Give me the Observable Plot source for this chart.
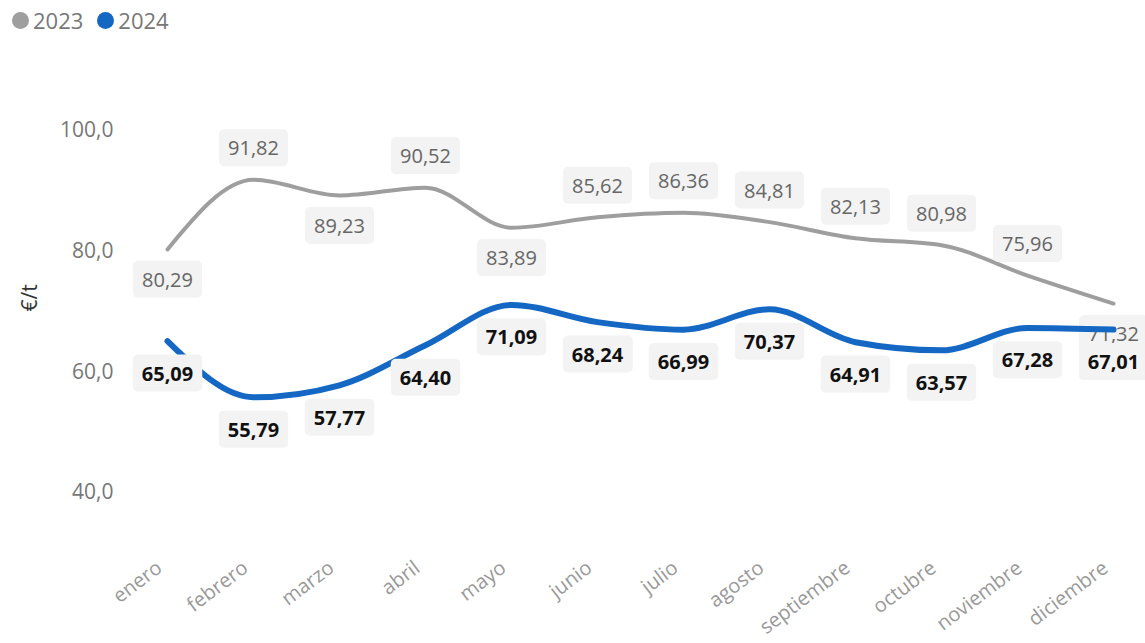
<!DOCTYPE html>
<html><head><meta charset="utf-8">
<script src="https://cdn.jsdelivr.net/npm/d3@7"></script>
<script src="https://cdn.jsdelivr.net/npm/@observablehq/plot@0.6"></script>
<style>
body{margin:0;background:#fff;font-family:"Segoe UI","Open Sans",sans-serif;}
#legend{height:40px;display:flex;align-items:center;padding-left:12px;font-size:22px;color:#777;}
#legend span.dot{display:inline-block;width:17px;height:17px;border-radius:50%;margin-right:4px;}
#legend span.item{display:inline-flex;align-items:center;margin-right:14px;}
</style></head>
<body>
<div id="legend"></div>
<div id="chart"></div>
<script>
const months = ["enero","febrero","marzo","abril","mayo","junio","julio","agosto","septiembre","octubre","noviembre","diciembre"];
const values2023 = [80.29,91.82,89.23,90.52,83.89,85.62,86.36,84.81,82.13,80.98,75.96,71.32];
const values2024 = [65.09,55.79,57.77,64.40,71.09,68.24,66.99,70.37,64.91,63.57,67.28,67.01];
// label placement: +1 above, -1 below
const pos2023 = [-1,1,-1,1,-1,1,1,1,1,1,1,-1];
const pos2024 = [-1,-1,-1,-1,-1,-1,-1,-1,-1,-1,-1,-1];
const yTicks = [40,60,80,100];
const seriesNames = ["2023","2024"];
const colors = ["#9e9e9e","#1467c3"];

const d23 = months.map((m,i)=>({month:m, v:values2023[i], p:pos2023[i]}));
const d24 = months.map((m,i)=>({month:m, v:values2024[i], p:pos2024[i]}));
const fmt = d3.format(".2f");
const es = v => fmt(v).replace(".", ",");

const legend = document.getElementById("legend");
seriesNames.forEach((s,i)=>{
  const it = document.createElement("span"); it.className="item";
  it.innerHTML = `<span class="dot" style="background:${colors[i]}"></span>${s}`;
  legend.appendChild(it);
});

const font = '"Segoe UI","Open Sans",sans-serif';
const plot = Plot.plot({
  width:1145, height:603,
  marginLeft:165, marginRight:30, marginTop:90, marginBottom:151,
  style:{fontFamily:font, background:"#fff", overflow:"visible"},
  x:{type:"point", domain:months, padding:0},
  y:{domain:[40,100]},
  marks:[
    Plot.axisY(yTicks,{tickSize:0, tickPadding:52, fontSize:21, fill:"#777", tickFormat:d=>d3.format(".1f")(d).replace(".",","), label:null}),
    Plot.axisX({tickSize:0, tickPadding:0, tickRotate:-37, fontSize:20, fill:"#999", dy:73, dx:-8, label:null}),
    Plot.text(["€/t"],{frameAnchor:"left", dx:-135, rotate:-90, fontSize:21, fill:"#333"}),
    Plot.line(d23,{x:"month", y:"v", stroke:colors[0], strokeWidth:4, curve:"monotone-x"}),
    Plot.text(d23.filter(d=>d.p>0),{x:"month", y:"v", text:d=>es(d.v), dy:-31, fontSize:20, fill:"#666", className:"lbl"}),
    Plot.text(d23.filter(d=>d.p<0),{x:"month", y:"v", text:d=>es(d.v), dy:31, fontSize:20, fill:"#666", className:"lbl"}),
    Plot.line(d24,{x:"month", y:"v", stroke:colors[1], strokeWidth:6, curve:"monotone-x"}),
    Plot.text(d24,{x:"month", y:"v", text:d=>es(d.v), dy:33, fontSize:20, fontWeight:"bold", fill:"#111", className:"lbl"})
  ]
});
document.getElementById("chart").appendChild(plot);
// add rounded background boxes behind labels
plot.querySelectorAll(".lbl text").forEach(t=>{
  const b = t.getBBox();
  const r = document.createElementNS("http://www.w3.org/2000/svg","rect");
  const px=9, py=5;
  r.setAttribute("x", b.x-px); r.setAttribute("y", b.y-py);
  r.setAttribute("width", b.width+2*px); r.setAttribute("height", b.height+2*py);
  r.setAttribute("rx",5); r.setAttribute("fill","#f3f3f3");
  if (t.getAttribute("transform")) r.setAttribute("transform", t.getAttribute("transform"));
  t.parentNode.insertBefore(r,t);
});
</script>
</body></html>
